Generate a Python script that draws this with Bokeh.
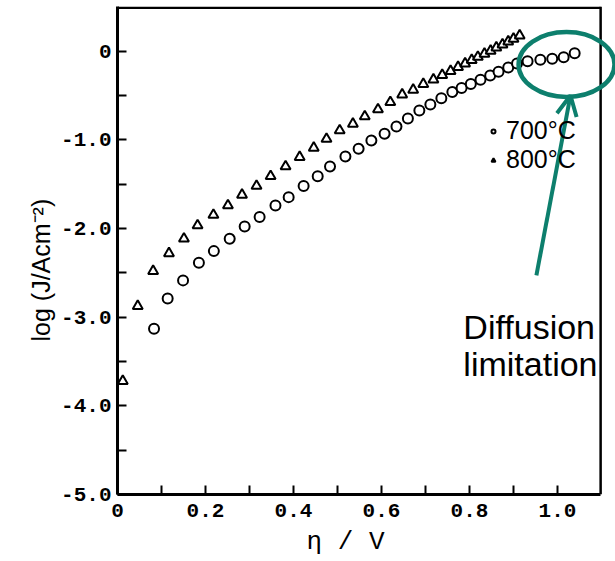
from bokeh.plotting import figure
from bokeh.models import (FixedTicker, Range1d, Arrow, OpenHead, Label, Title,
                          Legend, LegendItem)
from bokeh.embed import file_html
from bokeh.resources import INLINE

# ---- data ----
eta_700 = [0.083, 0.114, 0.149, 0.185, 0.219, 0.255, 0.289, 0.323, 0.359, 0.389,
           0.423, 0.455, 0.483, 0.518, 0.548, 0.577, 0.607, 0.634, 0.660, 0.686,
           0.711, 0.736, 0.761, 0.782, 0.803, 0.825, 0.847, 0.866, 0.888, 0.908,
           0.932, 0.961, 0.988, 1.014, 1.039]
logj_700 = [-3.13, -2.79, -2.585, -2.385, -2.255, -2.115, -1.976, -1.87, -1.74, -1.646,
            -1.52, -1.41, -1.30, -1.187, -1.10, -1.007, -0.93, -0.85, -0.76, -0.67,
            -0.60, -0.53, -0.46, -0.415, -0.369, -0.321, -0.274, -0.232, -0.185, -0.139,
            -0.113, -0.097, -0.086, -0.068, -0.023]

eta_800 = [0.012, 0.046, 0.081, 0.117, 0.151, 0.182, 0.218, 0.251, 0.283, 0.316,
           0.348, 0.382, 0.414, 0.446, 0.475, 0.505, 0.535, 0.562, 0.592, 0.620,
           0.647, 0.672, 0.695, 0.718, 0.738, 0.757, 0.774, 0.790, 0.805, 0.819,
           0.834, 0.848, 0.861, 0.875, 0.888, 0.900, 0.914]
logj_800 = [-3.72, -2.875, -2.48, -2.28, -2.115, -1.965, -1.847, -1.74, -1.62, -1.52,
            -1.41, -1.30, -1.195, -1.09, -0.99, -0.894, -0.82, -0.736, -0.657, -0.575,
            -0.49, -0.435, -0.37, -0.32, -0.27, -0.225, -0.18, -0.14, -0.10, -0.065,
            -0.03, 0.005, 0.04, 0.075, 0.108, 0.14, 0.177]

series_labels = ["700°C", "800°C"]

x_tick_values = [0, 0.2, 0.4, 0.6, 0.8, 1.0]
x_tick_labels = ["0", "0.2", "0.4", "0.6", "0.8", "1.0"]
x_minor_ticks = [0.1, 0.3, 0.5, 0.7, 0.9]
y_tick_values = [-5, -4, -3, -2, -1, 0]
y_tick_labels = ["-5.0", "-4.0", "-3.0", "-2.0", "-1.0", "0"]
y_minor_ticks = [-4.5, -3.5, -2.5, -1.5, -0.5]

x_label = "η / V"
y_label = "log (J/Acm⁻²)"
note_lines = ["Diffusion", "limitation"]

# ---- layout constants ----
X_FRAME = 1.098          # right edge of the drawn box
X_END = 1.1318           # plotting area extends to the page edge
Y_BOTTOM = -5.0
Y_TOP = 0.504
TEAL = "#0d7f6d"

p = figure(width=615, height=561, output_backend="svg", toolbar_location=None,
           x_range=Range1d(0, X_END), y_range=Range1d(Y_BOTTOM, Y_TOP),
           min_border_left=117, min_border_right=0, min_border_top=6,
           min_border_bottom=66)
p.xgrid.visible = False
p.ygrid.visible = False
p.outline_line_color = None
p.background_fill_color = "white"

for ax in (p.xaxis[0], p.yaxis[0]):
    ax.axis_line_width = 3
    ax.major_tick_in = 9
    ax.major_tick_out = 0
    ax.minor_tick_in = 9
    ax.minor_tick_out = 0
    ax.major_tick_line_width = 2
    ax.minor_tick_line_width = 2
    ax.major_label_text_font = "Liberation Mono"
    ax.major_label_text_font_style = "bold"
    ax.major_label_text_font_size = "21px"
    ax.major_label_text_color = "black"

p.xaxis.ticker = FixedTicker(ticks=x_tick_values, minor_ticks=x_minor_ticks)
p.xaxis.major_label_overrides = dict(zip(x_tick_values, x_tick_labels))
p.xaxis.bounds = (0, X_FRAME)
p.xaxis.major_label_standoff = 9

p.yaxis.ticker = FixedTicker(ticks=y_tick_values, minor_ticks=y_minor_ticks)
p.yaxis.major_label_overrides = dict(zip(y_tick_values, y_tick_labels))
p.yaxis.major_label_standoff = 6

# axis titles (as side titles so they can be offset like the reference)
p.add_layout(Title(text=x_label, align="left", offset=189, standoff=10,
                   text_font="Liberation Mono", text_font_size="26px",
                   text_font_style="normal", text_color="black"), "below")
p.add_layout(Title(text=y_label, align="left", offset=153, standoff=7,
                   text_font="Liberation Sans", text_font_size="25px",
                   text_font_style="normal", text_color="black"), "left")

# box top and right edges
p.segment(x0=[0], y0=[Y_TOP - 0.014], x1=[X_FRAME], y1=[Y_TOP - 0.014],
          line_color="black", line_width=2.5)
p.segment(x0=[X_FRAME], y0=[Y_BOTTOM], x1=[X_FRAME], y1=[Y_TOP],
          line_color="black", line_width=2.5)

r700 = p.scatter(eta_700, logj_700, marker="circle", size=10, line_color="black",
                 line_width=2, fill_color="white")
r800 = p.scatter(eta_800, logj_800, marker="triangle", size=10, line_color="black",
                 line_width=2, fill_color="white")

legend = Legend(items=[LegendItem(label=series_labels[0], renderers=[r700]),
                       LegendItem(label=series_labels[1], renderers=[r800])],
                location=(371, 320), border_line_color=None,
                background_fill_alpha=0, padding=0, margin=0, spacing=0,
                label_standoff=8, glyph_width=10, glyph_height=20, label_height=20,
                label_text_font="Liberation Sans", label_text_font_size="25px",
                label_text_color="black")
p.add_layout(legend)

# annotation: ellipse, arrow, text
p.ellipse(x=[1.0205], y=[-0.15], width=0.218, height=0.733, fill_color=None,
          line_color=TEAL, line_width=4.5)
p.add_layout(Arrow(end=OpenHead(size=20, line_color=TEAL, line_width=4),
                   x_start=0.952, y_start=-2.529, x_end=1.0295, y_end=-0.499,
                   line_color=TEAL, line_width=4))
for line, yb in zip(note_lines, [-3.111, -3.524]):
    p.add_layout(Label(x=0.786, y=yb, text=line, text_font="Liberation Sans",
                       text_font_size="34px", text_color="black",
                       text_baseline="alphabetic", text_align="left"))

open("out.html", "w").write(file_html(p, INLINE))
